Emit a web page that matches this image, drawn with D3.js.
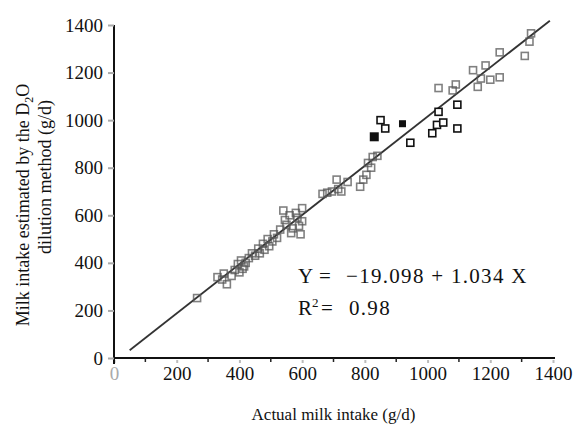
<!DOCTYPE html>
<html>
<head>
<meta charset="utf-8">
<script src="https://cdn.jsdelivr.net/npm/d3@7/dist/d3.min.js"></script>
<style>
  body { margin: 0; background: #fff; }
  svg, svg text { font-family: "Liberation Serif", "Times New Roman", Times, serif; }
</style>
</head>
<body>
<div id="chart"></div>
<script>
// actual intake (x) vs D2O estimate (y), g/d
// the scan shows most points soft/grey, the middle group crisp black
const fadedPts = [
  [265, 252],
  [330, 340], [345, 330], [350, 355], [360, 310], [375, 345], [385, 370],
  [395, 395], [400, 360], [405, 410], [415, 385], [420, 400], [410, 375],
  [430, 420], [440, 440], [450, 430], [460, 460], [465, 440], [475, 480],
  [480, 455], [490, 500], [495, 470], [505, 490], [510, 520], [520, 505],
  [530, 540], [540, 620], [545, 580], [550, 560], [560, 600], [565, 525],
  [570, 545], [580, 610], [585, 590], [590, 555], [595, 520], [600, 575], [600, 630],
  [665, 690], [680, 695], [695, 700], [710, 750], [715, 710], [725, 700], [745, 740],
  [785, 720], [795, 750], [805, 770], [810, 820], [820, 800], [825, 845], [840, 850],
  [1035, 1135], [1080, 1125], [1090, 1150], [1145, 1210], [1160, 1140], [1170, 1175],
  [1185, 1230], [1200, 1170], [1230, 1180], [1230, 1285], [1310, 1270], [1325, 1330], [1330, 1365]
];
const openPts = [
  [850, 1000], [865, 965], [945, 905], [1015, 945], [1030, 980],
  [1050, 990], [1035, 1035], [1095, 965], [1095, 1065]
];
const filledPts = [[830, 930], [920, 985]];

const intercept = -19.098;
const slope = 1.034;
const fitRange = [50, 1390];

const xTicks = [0, 200, 400, 600, 800, 1000, 1200, 1400];
const yTicks = [0, 200, 400, 600, 800, 1000, 1200, 1400];
const minorTicks = [100, 300, 500, 700, 900, 1100, 1300];

const eqText = "\u221219.098 + 1.034 X";
const r2Text = "0.98";

const W = 579, H = 431;
const serif = "'Liberation Serif', 'Times New Roman', serif";
const svg = d3.select("#chart").append("svg")
  .attr("width", W).attr("height", H);

const x = d3.scaleLinear().domain([0, 1400]).range([114, 553]);
const y = d3.scaleLinear().domain([0, 1400]).range([358, 25]);

// axes
const xAxis = svg.append("g")
  .attr("transform", `translate(0,${y(0)})`)
  .call(d3.axisBottom(x).tickValues(xTicks).tickFormat(d3.format("d"))
    .tickSize(5).tickPadding(4).tickSizeOuter(0));
xAxis.attr("font-family", serif);
xAxis.select(".domain").attr("stroke", "#111").attr("stroke-width", 2)
  .attr("d", `M${x(0)},0H${x(1400) + 2}`);
xAxis.selectAll(".tick line").attr("stroke", "#bbb").attr("stroke-width", 2).attr("y1", 2);
xAxis.selectAll(".tick text").attr("font-size", 19).attr("fill", "#111");
xAxis.selectAll(".tick text").filter(d => d === 0).attr("fill", "#aaa");

svg.append("g").selectAll("line").data(minorTicks).join("line")
  .attr("x1", d => x(d)).attr("x2", d => x(d))
  .attr("y1", y(0)).attr("y2", y(0) + 4)
  .attr("stroke", "#222").attr("stroke-width", 1.5);

const yAxis = svg.append("g")
  .attr("transform", `translate(${x(0)},0)`)
  .call(d3.axisLeft(y).tickValues(yTicks).tickFormat(d3.format("d"))
    .tickSize(6).tickPadding(5).tickSizeOuter(0));
yAxis.attr("font-family", serif);
yAxis.select(".domain").attr("stroke", "#111").attr("stroke-width", 2)
  .attr("d", `M0,${y(1400)}V${y(0) + 6}`);
yAxis.selectAll(".tick line").attr("stroke", "#aaa").attr("stroke-width", 2);
yAxis.selectAll(".tick text").attr("font-size", 19).attr("fill", "#111");

// fitted line
svg.append("line")
  .attr("x1", x(fitRange[0])).attr("y1", y(intercept + slope * fitRange[0]))
  .attr("x2", x(fitRange[1])).attr("y2", y(intercept + slope * fitRange[1]))
  .attr("stroke", "#333").attr("stroke-width", 1.8);

// points
const s = 7;
svg.append("g").selectAll("rect").data(fadedPts).join("rect")
  .attr("x", d => x(d[0]) - s / 2).attr("y", d => y(d[1]) - s / 2)
  .attr("width", s).attr("height", s)
  .attr("fill", "none").attr("stroke", "#555").attr("stroke-width", 1.6)
  .attr("opacity", 0.75);

svg.append("g").selectAll("rect").data(openPts).join("rect")
  .attr("x", d => x(d[0]) - s / 2).attr("y", d => y(d[1]) - s / 2)
  .attr("width", s).attr("height", s)
  .attr("fill", "#fff").attr("stroke", "#111").attr("stroke-width", 1.6);

svg.append("g").selectAll("rect").data(filledPts).join("rect")
  .attr("x", (d, i) => x(d[0]) - (i ? 3.5 : 4.5))
  .attr("y", (d, i) => y(d[1]) - (i ? 3.5 : 4.5))
  .attr("width", (d, i) => i ? 7 : 9).attr("height", (d, i) => i ? 7 : 9)
  .attr("fill", "#111");

// equation
const eq = svg.append("g").attr("font-size", 21).attr("fill", "#111")
  .attr("font-family", serif);
eq.append("text").attr("x", 298).attr("y", 283).text("Y");
eq.append("text").attr("x", 319).attr("y", 283).text("=");
eq.append("text").attr("x", 346).attr("y", 283)
  .style("letter-spacing", "1.3px").text(eqText);
const r2 = eq.append("text").attr("x", 298).attr("y", 315);
r2.append("tspan").text("R");
r2.append("tspan").attr("dy", -8).attr("font-size", 13).text("2");
eq.append("text").attr("x", 321).attr("y", 315).text("=");
eq.append("text").attr("x", 349).attr("y", 315)
  .style("letter-spacing", "1.3px").text(r2Text);

// axis titles
svg.append("text")
  .attr("x", x(700)).attr("y", 420).attr("font-family", serif)
  .attr("text-anchor", "middle").attr("font-size", 17).attr("fill", "#111")
  .text("Actual milk intake (g/d)");

const yl1 = svg.append("text")
  .attr("transform", "translate(29,205) rotate(-90)").attr("font-family", serif)
  .attr("text-anchor", "middle").attr("font-size", 18).attr("fill", "#111");
yl1.append("tspan").text("Milk intake estimated by the D");
yl1.append("tspan").attr("dy", 4).attr("font-size", 12).text("2");
yl1.append("tspan").attr("dy", -4).text("O");

svg.append("text")
  .attr("transform", "translate(51,177) rotate(-90)").attr("font-family", serif)
  .attr("text-anchor", "middle").attr("font-size", 18).attr("fill", "#111")
  .text("dilution method (g/d)");
</script>
</body>
</html>
